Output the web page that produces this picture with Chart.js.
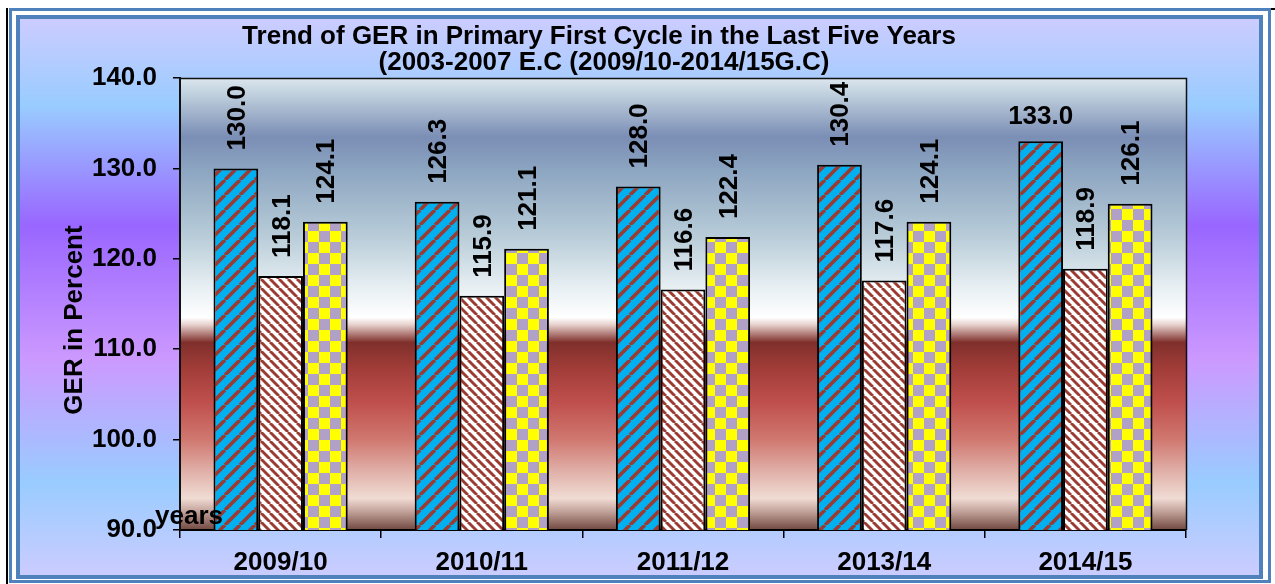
<!DOCTYPE html>
<html>
<head>
<meta charset="utf-8">
<script src="https://cdn.jsdelivr.net/npm/chart.js@4/dist/chart.umd.min.js"></script>
<style>
  html, body { margin: 0; padding: 0; background: #fff; }
  #wrap { width: 1275px; height: 584px; position: relative; }
</style>
</head>
<body>
<div id="wrap"><canvas id="c" width="1275" height="584"></canvas></div>
<script>
// ---- data ----
const categories = ['2009/10', '2010/11', '2011/12', '2013/14', '2014/15'];
const seriesNames = ['Male', 'Female', 'Total'];
const maleGER = [130.0, 126.3, 128.0, 130.4, 133.0];
const femaleGER = [118.1, 115.9, 116.6, 117.6, 118.9];
const totalGER = [124.1, 121.1, 122.4, 124.1, 126.1];
const yMin = 90, yMax = 140, yStep = 10;
const titleLines = ['Trend of GER in Primary First Cycle in the Last Five Years',
                    '(2003-2007 E.C (2009/10-2014/15G.C)'];
const yTitle = 'GER in Percent';
const xTitle = 'years';

const FONT = '"Liberation Sans", Arial, sans-serif';
const BROWN = '#9c3b31';

function stripePattern(bg, fg, size, lw, dir) {
  const c = document.createElement('canvas');
  c.width = size; c.height = size;
  const g = c.getContext('2d');
  g.fillStyle = bg; g.fillRect(0, 0, size, size);
  g.strokeStyle = fg; g.lineWidth = lw;
  g.beginPath();
  for (let k = -1; k <= 1; k++) {
    if (dir === '/') { g.moveTo(k * size, size); g.lineTo(k * size + size, 0); }
    else { g.moveTo(k * size, 0); g.lineTo(k * size + size, size); }
  }
  g.stroke();
  return g.createPattern(c, 'repeat');
}
function checkerPattern(a, b, sq) {
  const c = document.createElement('canvas');
  c.width = sq * 2; c.height = sq * 2;
  const g = c.getContext('2d');
  g.fillStyle = a; g.fillRect(0, 0, sq * 2, sq * 2);
  g.fillStyle = b; g.fillRect(0, 0, sq, sq); g.fillRect(sq, sq, sq, sq);
  return g.createPattern(c, 'repeat');
}

const bgPlugin = {
  id: 'bgPlugin',
  beforeDraw(chart) {
    const ctx = chart.ctx, W = chart.width, H = chart.height, ca = chart.chartArea;
    ctx.save();
    ctx.fillStyle = '#fff'; ctx.fillRect(0, 0, W, H);
    ctx.fillStyle = '#000'; ctx.fillRect(6, 8, 2, H - 8); ctx.fillRect(1270, 8, 5, 2);
    // outer gradient panel
    const gy0 = 19, gy1 = 577;
    const og = ctx.createLinearGradient(0, gy0, 0, gy1);
    og.addColorStop(0, '#ccccff');
    og.addColorStop(0.155, '#99ccff');
    og.addColorStop(0.37, '#9966ff');
    og.addColorStop(0.61, '#cc99ff');
    og.addColorStop(0.83, '#99ccff');
    og.addColorStop(1, '#ccccff');
    ctx.fillStyle = og; ctx.fillRect(20, gy0, 1241, gy1 - gy0);
    // frames
    ctx.strokeStyle = '#4f81bd';
    ctx.lineWidth = 4; ctx.strokeRect(18, 17, 1243, 560);
    ctx.lineWidth = 3; ctx.strokeRect(10.5, 9.5, 1259, 572);
    // plot area gradient
    const pg = ctx.createLinearGradient(0, ca.top, 0, ca.bottom);
    const stops = [[0, '#dce6ee'], [0.03, '#c4d4e0'], [0.13, '#7b8eb5'], [0.2, '#8ba4c0'],
      [0.35, '#b8ccd8'], [0.46, '#e6eef2'], [0.53, '#ffffff'], [0.545, '#e8d4d0'],
      [0.585, '#7f2f2b'], [0.64, '#a03c38'], [0.72, '#c0504d'], [0.80, '#d07870'],
      [0.87, '#e0b0a8'], [0.93, '#f0dcd4'], [0.96, '#c0a098'], [1, '#704840']];
    stops.forEach(s => pg.addColorStop(s[0], s[1]));
    ctx.fillStyle = pg;
    ctx.fillRect(ca.left, ca.top, ca.right - ca.left, ca.bottom - ca.top);
    ctx.restore();
  },
  afterDatasetsDraw(chart) {
    const ctx = chart.ctx, ca = chart.chartArea;
    ctx.save();
    ctx.fillStyle = '#000';
    ctx.font = 'bold 26px ' + FONT;
    const gap = 18;
    chart.data.datasets.forEach((ds, di) => {
      const meta = chart.getDatasetMeta(di);
      meta.data.forEach((el, i) => {
        const txt = ds.data[i].toFixed(1);
        const w = ctx.measureText(txt).width;
        const top = el.y;
        if (top - gap - w >= ca.top + 2) {
          ctx.save();
          ctx.translate(el.x + 9, top - gap);
          ctx.rotate(-Math.PI / 2);
          ctx.textAlign = 'left'; ctx.textBaseline = 'alphabetic';
          ctx.fillText(txt, 0, 0);
          ctx.restore();
        } else {
          ctx.textAlign = 'center'; ctx.textBaseline = 'alphabetic';
          ctx.fillText(txt, el.x, top - 17);
        }
      });
    });
    ctx.restore();
  },
  afterDraw(chart) {
    const ctx = chart.ctx, ca = chart.chartArea;
    ctx.save();
    // plot border top/right
    ctx.strokeStyle = '#111'; ctx.lineWidth = 1.5;
    ctx.beginPath();
    ctx.moveTo(ca.left, ca.top + 0.5); ctx.lineTo(ca.right + 0.5, ca.top + 0.5); ctx.lineTo(ca.right + 0.5, ca.bottom);
    ctx.stroke();
    ctx.fillStyle = '#000';
    // title
    ctx.font = 'bold 26px ' + FONT;
    ctx.textAlign = 'center'; ctx.textBaseline = 'alphabetic';
    ctx.fillText(titleLines[0], 599, 44);
    ctx.fillText(titleLines[1], 604, 70);
    // y title
    ctx.save();
    ctx.translate(82, 320);
    ctx.rotate(-Math.PI / 2);
    ctx.textAlign = 'center';
    ctx.fillText(yTitle, 0, 0);
    ctx.restore();
    // x title
    ctx.textAlign = 'left';
    ctx.fillText(xTitle, 155, 524);
    ctx.restore();
  }
};

const ctx = document.getElementById('c').getContext('2d');
const patterns = [
  stripePattern('#00b0f0', BROWN, 15, 3.6, '/'),
  stripePattern('#ffffff', BROWN, 9, 2.9, '\\'),
  checkerPattern('#ffff00', '#b2a1c7', 11)
];
const seriesData = [maleGER, femaleGER, totalGER];

new Chart(ctx, {
  type: 'bar',
  data: {
    labels: categories,
    datasets: seriesData.map((d, i) => ({
      label: seriesNames[i],
      data: d,
      backgroundColor: patterns[i],
      borderColor: '#000',
      borderWidth: 2,
      borderSkipped: false,
      categoryPercentage: 0.667,
      barPercentage: 1.0
    }))
  },
  options: {
    responsive: false,
    animation: false,
    events: [],
    layout: { padding: { top: 78, right: 89, left: 0, bottom: 0 } },
    plugins: { legend: { display: false }, tooltip: { enabled: false }, title: { display: false } },
    scales: {
      x: {
        type: 'category',
        grid: { drawOnChartArea: false, drawTicks: true, tickLength: 8, color: '#000', lineWidth: 1.5, offset: true },
        border: { display: true, color: '#000', width: 2 },
        ticks: { color: '#000', font: { family: FONT, size: 26, weight: 'bold' }, padding: 9, maxRotation: 0 },
        afterFit(scale) { scale.height = 54; }
      },
      y: {
        min: yMin, max: yMax,
        grid: { drawOnChartArea: false, drawTicks: true, tickLength: 7, color: '#000', lineWidth: 1.5 },
        border: { display: true, color: '#111', width: 2 },
        ticks: {
          stepSize: yStep, color: '#000', padding: 16,
          font: { family: FONT, size: 26, weight: 'bold' },
          callback: v => v.toFixed(1)
        },
        afterFit(scale) { scale.width = 180; }
      }
    }
  },
  plugins: [bgPlugin]
});
</script>
</body>
</html>
